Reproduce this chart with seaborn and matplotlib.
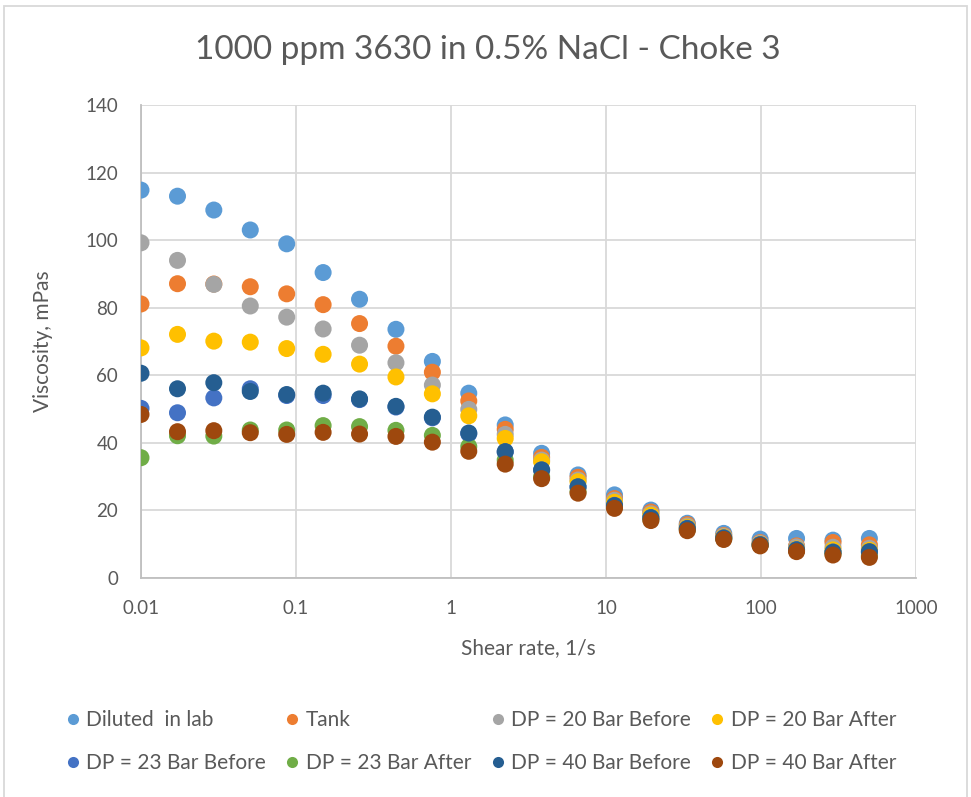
import matplotlib
matplotlib.use("Agg")
import matplotlib.pyplot as plt
import seaborn as sns
import pandas as pd
from matplotlib.ticker import NullLocator
from matplotlib.lines import Line2D
from matplotlib.patches import Rectangle

shear_rate = [0.01, 0.0172, 0.0295, 0.0507, 0.0871, 0.1496, 0.257, 0.4414, 0.7582,
              1.302, 2.237, 3.842, 6.6, 11.34, 19.47, 33.45, 57.46, 98.69, 169.5, 291.2, 500.0]

diluted = [114.8, 113.0, 108.9, 103.0, 98.9, 90.4, 82.5, 73.6, 64.1, 54.7, 45.3, 36.9, 30.5,
           24.6, 20.1, 16.2, 13.2, 11.5, 11.7, 11.2, 11.7]
tank = [81.1, 87.1, 87.0, 86.2, 84.1, 80.9, 75.3, 68.6, 60.9, 52.4, 44.0, 35.7, 29.8,
        23.5, 19.5, 15.8, 12.6, 10.5, 9.5, 10.5, 9.8]
dp20_before = [99.2, 94.0, 86.9, 80.5, 77.2, 73.7, 68.9, 63.7, 57.1, 49.9, 42.5, 34.9, 29.0,
               23.0, 19.0, 15.4, 12.4, 10.3, 9.2, 9.1, 8.8]
dp20_after = [68.1, 72.1, 70.1, 69.8, 67.9, 66.2, 63.3, 59.5, 54.5, 48.0, 41.3, 34.4, 28.5,
              22.4, 18.6, 15.0, 12.1, 10.0, 8.6, 8.3, 8.2]
dp23_before = [50.2, 48.9, 53.3, 56.0, 54.0, 54.0, 52.8, 50.6, 47.4, 42.7, 37.3, 31.9, 26.9,
               21.5, 17.9, 14.7, 11.9, 9.9, 8.4, 7.7, 7.6]
dp23_after = [35.6, 42.1, 42.0, 43.8, 43.8, 45.1, 44.8, 43.7, 42.2, 38.9, 34.9, 30.0, 25.6,
              21.0, 17.3, 14.3, 11.6, 9.7, 8.1, 7.2, 6.6]
dp40_before = [60.6, 56.0, 57.8, 55.2, 54.3, 54.7, 53.0, 50.8, 47.6, 42.9, 37.4, 32.0, 27.0,
               21.4, 17.8, 14.6, 11.8, 9.8, 8.3, 7.6, 7.8]
dp40_after = [48.4, 43.3, 43.6, 43.0, 42.5, 43.1, 42.6, 41.9, 40.2, 37.5, 33.7, 29.4, 25.1,
              20.6, 17.0, 14.0, 11.4, 9.5, 7.8, 6.8, 6.1]

series_names = ["Diluted  in lab", "Tank", "DP = 20 Bar Before", "DP = 20 Bar After",
                "DP = 23 Bar Before", "DP = 23 Bar After", "DP = 40 Bar Before", "DP = 40 Bar After"]
series_values = [diluted, tank, dp20_before, dp20_after, dp23_before, dp23_after, dp40_before, dp40_after]
colors = ["#5B9BD5", "#ED7D31", "#A5A5A5", "#FFC000", "#4472C4", "#70AD47", "#255E91", "#9E480E"]

xticks = [0.01, 0.1, 1, 10, 100, 1000]
xtick_labels = ["0.01", "0.1", "1", "10", "100", "1000"]
yticks = [0, 20, 40, 60, 80, 100, 120, 140]

rows = []
for name, vals in zip(series_names, series_values):
    for x, y in zip(shear_rate, vals):
        rows.append({"Series": name, "Shear": x, "Viscosity": y})
df = pd.DataFrame(rows)

sns.set_theme(style="white")
plt.rcParams["font.family"] = ["Lato", "DejaVu Sans"]
text_color = "#595959"
grid_color = "#D9D9D9"

fig = plt.figure(figsize=(9.71, 7.97), dpi=100)
ax = fig.add_axes([0.1452, 0.2748, 0.7982, 0.5935])

sns.scatterplot(data=df, x="Shear", y="Viscosity", hue="Series", hue_order=series_names,
                palette=colors, s=150, linewidth=0, alpha=1, legend=False, ax=ax, zorder=3)

ax.set_xscale("log")
ax.set_xlim(0.01, 1000)
ax.set_ylim(0, 140)
ax.set_xticks(xticks)
ax.set_xticklabels(xtick_labels)
ax.xaxis.set_minor_locator(NullLocator())
ax.set_yticks(yticks)
ax.grid(True, color=grid_color, linewidth=1.3, zorder=0)
ax.set_axisbelow(True)
for side in ["top", "right"]:
    ax.spines[side].set_visible(False)
for side in ["left", "bottom"]:
    ax.spines[side].set_color("#BFBFBF")
    ax.spines[side].set_linewidth(1.3)
ax.tick_params(axis="x", colors=text_color, labelsize=13.5, length=0, pad=16)
ax.tick_params(axis="y", colors=text_color, labelsize=13.5, length=0, pad=16.5)
for lab in ax.get_xticklabels() + ax.get_yticklabels():
    lab.set_color(text_color)

ax.set_xlabel("Shear rate, 1/s", fontsize=15, color=text_color, labelpad=15)
ax.set_ylabel("Viscosity, mPas", fontsize=15, color=text_color, labelpad=23)
fig.text(0.502, 0.937, "1000 ppm 3630 in 0.5% NaCl - Choke 3", ha="center", va="center",
         fontsize=24, color=text_color)

handles = [Line2D([0], [0], marker="o", linestyle="", markersize=8, markerfacecolor=c,
                  markeredgewidth=0, color=c) for c in colors]
order = [0, 4, 1, 5, 2, 6, 3, 7]
leg = fig.legend([handles[i] for i in order], [series_names[i] for i in order],
                 loc="center", bbox_to_anchor=(0.4946, 0.0697), ncol=4, frameon=False,
                 fontsize=15, handletextpad=0.25, columnspacing=0.87, labelspacing=1.1,
                 handlelength=0.8)
for t in leg.get_texts():
    t.set_color(text_color)

fig.patches.append(Rectangle((0.004, -0.01), 0.992, 1.002, transform=fig.transFigure,
                             fill=False, edgecolor="#D9D9D9", linewidth=1.3))

fig.savefig("out.png", dpi=100, facecolor="white")
